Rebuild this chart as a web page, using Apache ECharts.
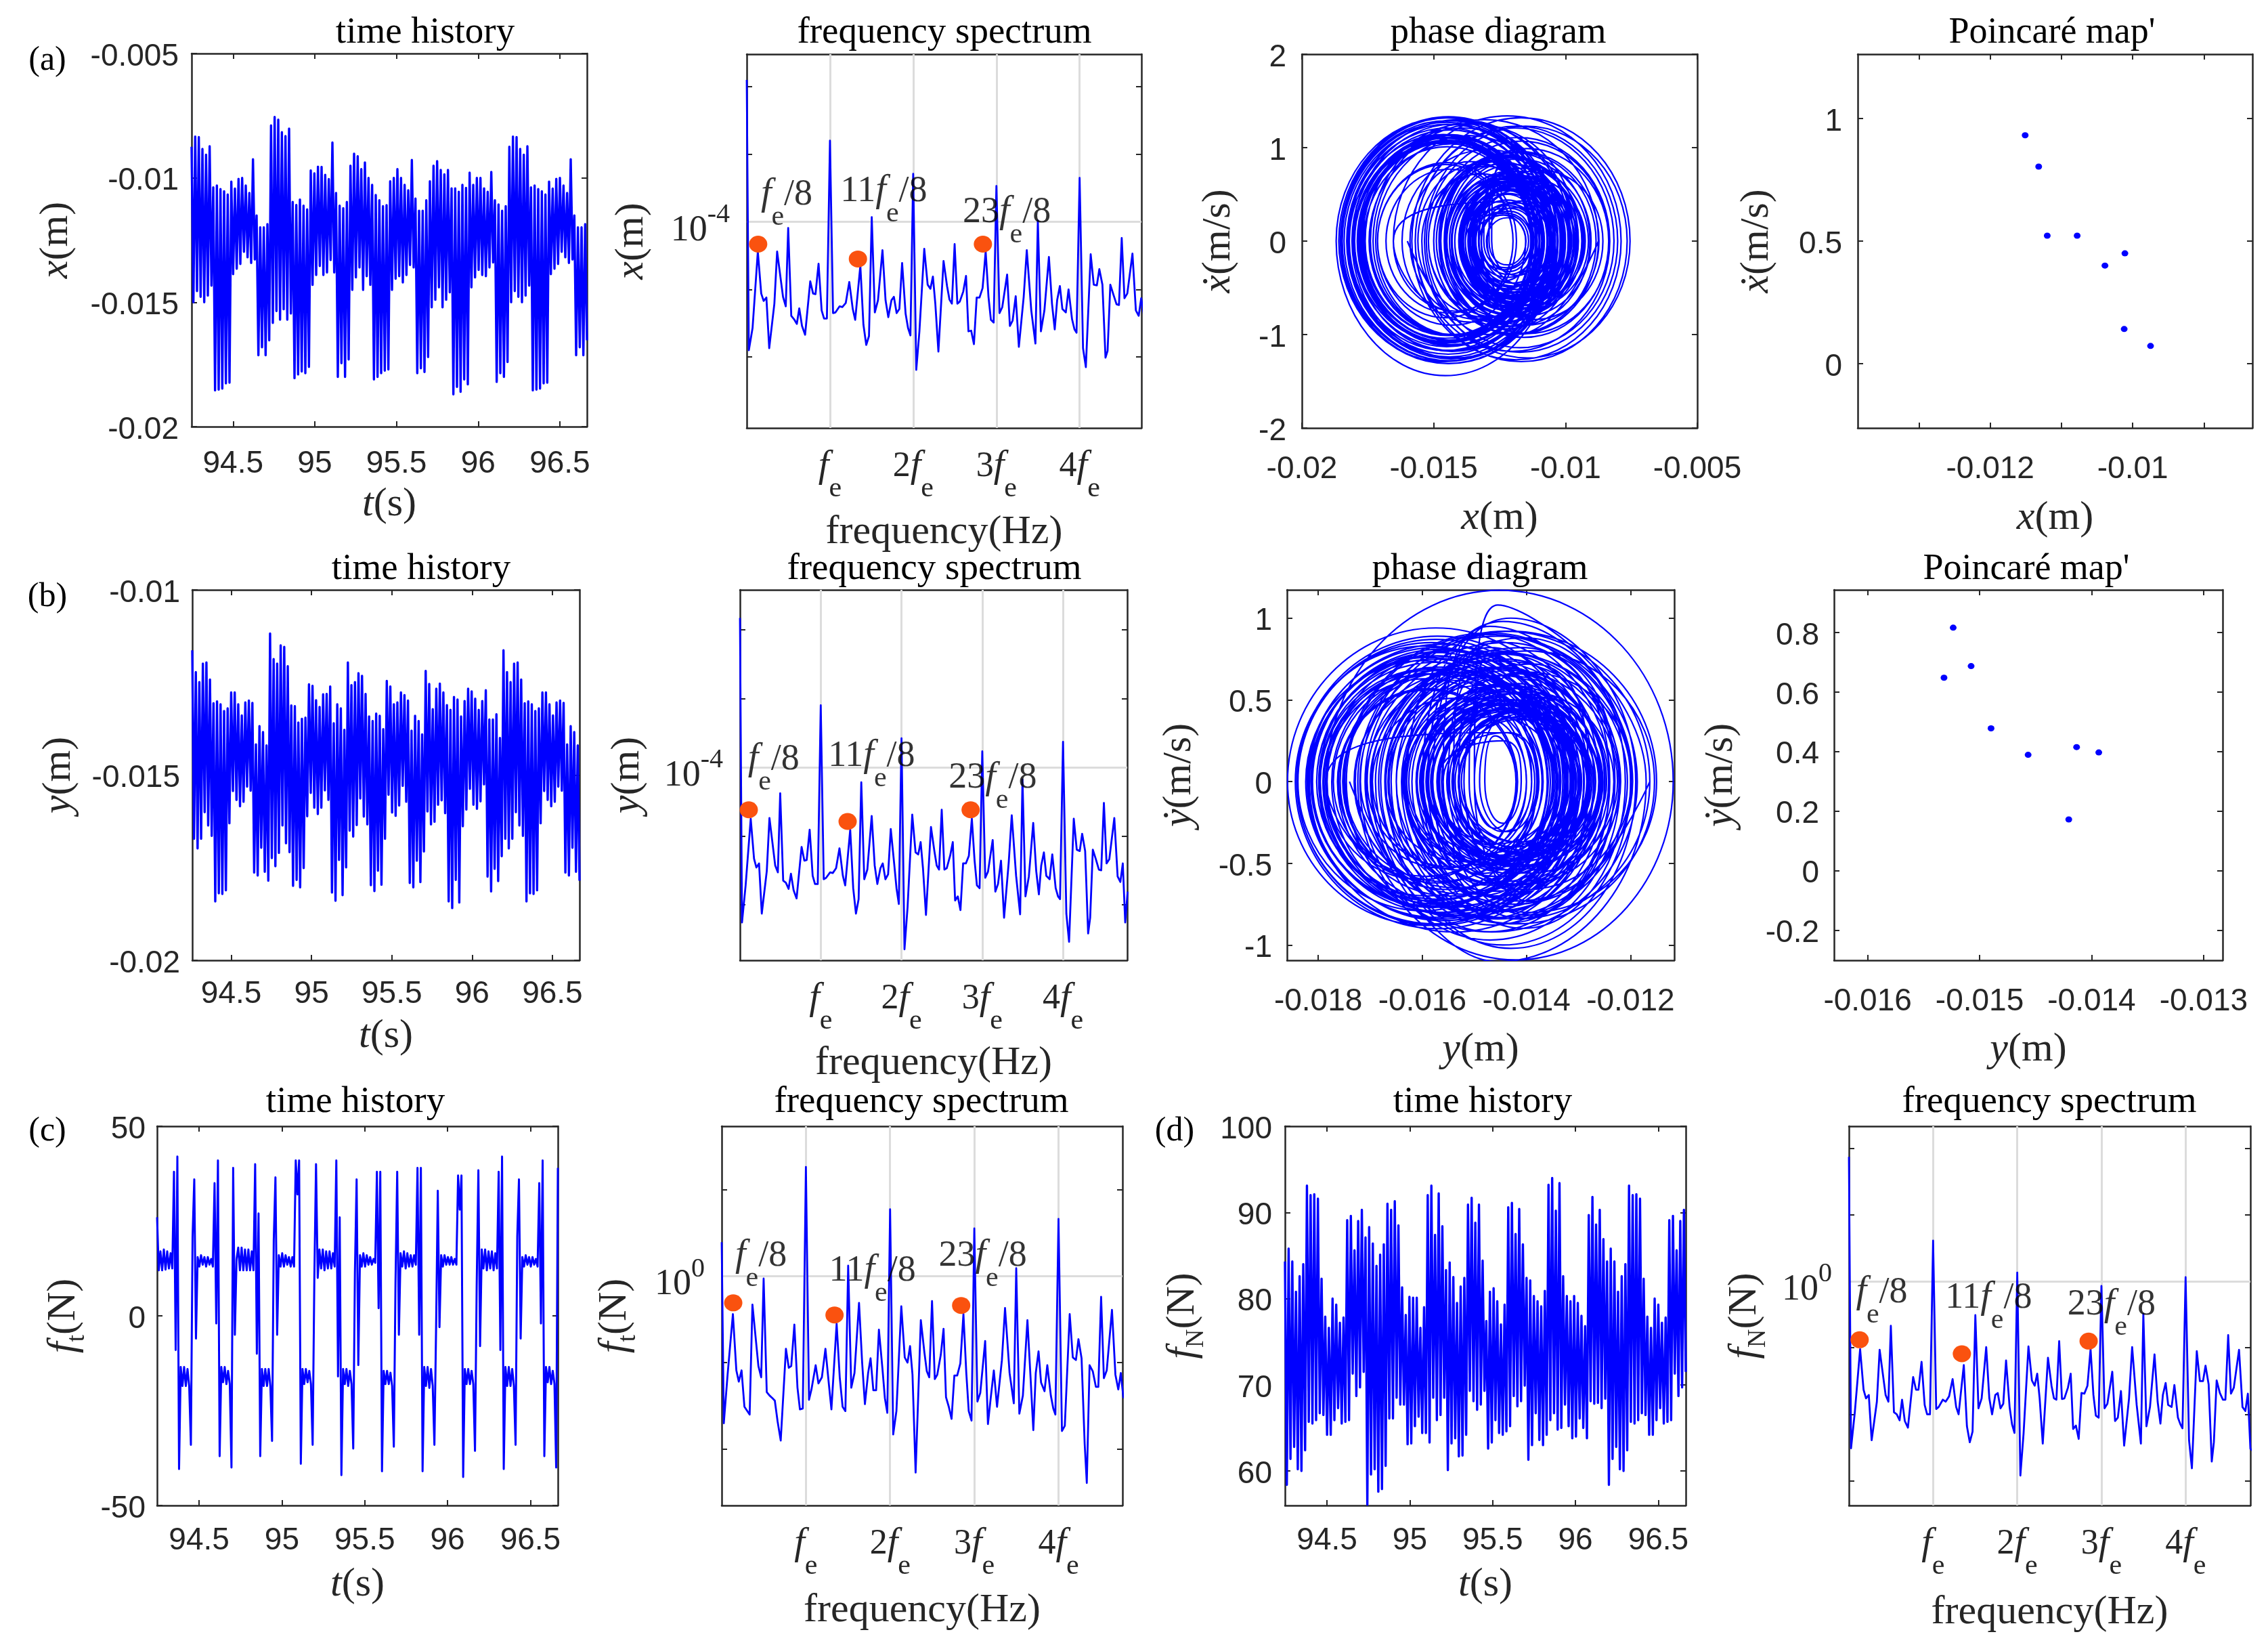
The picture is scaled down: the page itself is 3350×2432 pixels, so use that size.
<!DOCTYPE html>
<html><head><meta charset="utf-8"><style>html,body{margin:0;padding:0;background:#fff}#c{width:3350px;height:2432px}</style>
<script src="https://cdn.jsdelivr.net/npm/echarts@6/dist/echarts.min.js"></script></head><body><div id="c"></div><script>
// ---------- time-history extremes, read per cycle from the picture ----------
const xPeakG1=[-8.75,-8.34,-8.36,-8.84,-9.07,-8.73,-10.38,-10.31,-10.45,-10.54,-10.67,-10.15,-10.43,-10.04,-10.0,-10.31,-10.61,-9.25,-11.51,-11.99,-11.99,-11.86];
const xPeakG2=[-7.89,-7.55,-7.66,-8.16,-8.32,-8.02,-10.97,-11.09,-10.87,-11.12,-11.27,-9.7,-9.82,-9.55,-9.56,-9.88,-10.05,-8.58,-10.61,-11.12,-11.22,-10.97];
const xPeakG3=[-9.51,-9.03,-9.13,-9.65,-9.38,-10.0,-10.28,-10.69,-10.9,-11.14,-11.1,-10.14,-10.0,-9.65,-10.0,-10.28,-10.5,-9.28,-10.83,-11.32,-11.32,-10.9];
const xPeakG4=[-10.14,-9.51,-9.33,-9.68,-9.86,-9.68,-10.42,-10.42,-10.56,-10.28,-10.4,-9.79,-10.28,-10.0,-10.0,-10.42,-10.56,-9.76,-10.9,-11.07,-11.32,-11.14];
const xTroughG1=[-15.0,-14.55,-14.78,-15.0,-14.73,-14.33,-18.54,-18.51,-18.47,-18.26,-18.23,-13.87,-13.65,-13.46,-12.97,-13.19,-13.42,-13.28,-17.13,-16.81,-17.13,-16.53];
const xTroughG2=[-15.83,-15.35,-15.7,-15.28,-15.7,-15.45,-18.05,-17.9,-17.78,-17.85,-17.6,-14.3,-13.9,-13.54,-13.9,-13.8,-13.3,-13.8,-18.0,-17.45,-18.0,-17.3];
const xTroughG3=[-14.5,-14.0,-13.6,-14.5,-13.95,-14.3,-18.1,-18.0,-17.85,-17.75,-17.7,-14.5,-14.05,-13.95,-14.2,-13.9,-13.5,-13.6,-17.85,-17.65,-17.8,-17.2];
const xTroughG4=[-15.2,-14.9,-14.4,-15.2,-14.9,-14.6,-18.7,-18.4,-18.6,-18.1,-18.3,-14.4,-14.0,-13.7,-13.9,-13.95,-13.6,-13.4,-18.2,-17.85,-18.0,-17.4];
const xPeakMm=[...xPeakG1,...xPeakG2,...xPeakG3,...xPeakG4,...xPeakG1];
const xTroughMm=[...xTroughG1,...xTroughG2,...xTroughG3,...xTroughG4,...xTroughG1];

const yPeakG1=[-11.63,-12.22,-12.49,-11.99,-11.96,-12.42,-13.06,-13.01,-13.09,-13.27,-13.2,-12.77,-12.77,-13.09,-13.39,-13.04,-12.99,-13.05,-14.17,-13.68,-13.84,-14.2];
const yPeakG2=[-11.18,-11.87,-11.99,-11.5,-11.54,-12.06,-13.12,-13.14,-13.58,-13.48,-13.45,-12.55,-12.59,-12.98,-13.16,-12.82,-12.81,-12.61,-13.6,-13.09,-13.2,-13.78];
const yPeakG3=[-11.96,-12.57,-12.49,-12.25,-12.32,-12.81,-13.42,-13.54,-13.34,-13.4,-13.76,-12.46,-12.61,-13.09,-13.04,-12.77,-12.84,-12.99,-13.8,-13.4,-13.54,-13.9];
const yPeakG4=[-12.19,-12.54,-13.22,-12.67,-12.53,-12.77,-13.11,-13.24,-12.89,-12.96,-13.42,-13.0,-12.67,-12.74,-12.94,-13.24,-13.0,-12.71,-13.5,-13.5,-13.36,-14.0];
const yTroughG1=[-16.72,-16.98,-16.72,-16.0,-16.36,-16.64,-18.41,-18.19,-18.21,-18.11,-16.3,-15.43,-15.67,-15.84,-15.72,-15.31,-15.42,-17.63,-17.71,-16.96,-17.61,-17.85];
const yTroughG2=[-17.24,-17.46,-17.1,-16.36,-16.84,-17.08,-17.99,-17.83,-18.03,-17.51,-16.11,-15.48,-15.88,-16.05,-15.88,-15.41,-15.67,-18.17,-18.39,-17.29,-18.24,-17.49];
const yTroughG3=[-16.5,-16.66,-16.35,-15.63,-16.12,-16.33,-17.97,-18.13,-17.58,-17.96,-16.72,-15.53,-16.01,-16.1,-15.82,-15.29,-15.72,-17.91,-18.03,-17.31,-17.89,-17.06];
const yTroughG4=[-15.98,-16.33,-16.26,-15.8,-15.68,-16.03,-18.41,-18.59,-17.83,-18.44,-16.38,-15.93,-15.37,-15.8,-15.91,-15.71,-15.25,-17.74,-18.14,-17.53,-17.86,-17.19];
const yPeakMm=[...yPeakG1,...yPeakG2,...yPeakG3,...yPeakG4,...yPeakG1];
const yTroughMm=[...yTroughG1,...yTroughG2,...yTroughG3,...yTroughG4,...yTroughG1];

const fnPeakG1=[84.3,85.8,84.3,80.8,82.6,84.0,93.1,92.0,92.1,91.6,82.3,77.9,76.6,80.0,79.3,77.2,77.8,89.1,89.6,85.6,89.0,90.3];
const fnPeakG2=[87.1,88.3,86.4,83.8,85.1,86.3,91.0,90.3,91.3,88.5,81.3,78.1,80.2,80.1,80.1,76.6,79.0,92.0,93.1,87.4,92.2,88.4];
const fnPeakG3=[83.3,84.2,82.5,79.5,81.4,82.4,90.9,91.7,88.8,90.9,84.4,77.4,80.8,81.2,79.7,77.0,79.3,90.6,91.1,87.5,90.4,86.3];
const fnPeakG4=[82.4,82.1,80.3,79.7,79.1,80.9,93.2,94.0,90.2,93.4,82.6,80.3,79.7,80.3,79.5,78.0,76.8,89.7,91.8,88.6,90.3,86.9];
const fnTroughG1=[58.4,61.4,62.8,60.2,60.0,62.4,65.7,65.5,65.9,66.7,66.5,64.2,64.2,65.9,67.3,65.5,65.7,65.9,71.3,68.7,69.7,71.5];
const fnTroughG2=[56.1,59.6,60.2,57.6,57.9,60.6,66.1,66.1,68.5,67.7,67.7,63.1,63.2,65.2,66.3,64.4,64.4,63.3,68.5,65.9,66.5,68.5];
const fnTroughG3=[60.1,63.2,63.8,61.7,61.8,64.2,69.3,68.1,67.1,67.7,69.3,62.6,63.3,65.9,64.4,64.2,64.6,65.2,68.7,67.5,68.1,69.9];
const fnTroughG4=[61.3,63.0,66.7,63.6,63.0,64.2,65.9,66.7,64.8,65.0,67.7,65.2,63.8,64.0,66.1,65.0,63.8,68.1,67.8,67.9,67.3,68.4];
const fnPeak=[...fnPeakG1,...fnPeakG2,...fnPeakG3,...fnPeakG4,...fnPeakG1];
const fnTrough=[...fnTroughG1,...fnTroughG2,...fnTroughG3,...fnTroughG4,...fnTroughG1];

// tangential force: successive turning values
const ftZigzag=[26,12,17,12,17.5,12.2,17,12.5,16.5,12.5,38,-9,42,-40.4,-13.5,-18.5,-13.5,-18.5,-14,-18.5,-34,21,36,-6,
15.5,13,16,13.5,15.5,13,15.5,13.5,15,13,35,-2,41,-37,-13.5,-17.5,-13.5,-18,-14.5,-18,-40,39,-5,15,
18,12,18,12,17.5,12,17.5,12,17,12,40,-10,27,-37,-14,-18.5,-14,-18.5,-14,-18.5,-33,20,36.5,-5,
16,13,16.5,13,16,13.5,15.5,13,15.5,13,41,32,41,-39,-14,-18,-14,-17.5,-14.5,-18,-34,10,40,10,
17.5,12.5,17.5,12,17,12.5,17,12.5,16.5,13,41,-16,26,-42,-14,-18,-14,-18.5,-14.5,-18,-35,11.6,36,-13,
16,13,16.5,13,16,13.5,15.5,13.5,15,14,38,2,38,-41,-14.5,-18,-14.5,-18,-15,-18.5,-34.5,9,38,-5,
16.5,13,17,12.5,16.5,13,16,13,16,13.5,39,-5,39,-41,-13.5,-18.5,-13.5,-19,-14,-18.5,-34,-3,33,-3,
16,13,16,13.5,15.5,13.5,15.5,13.5,15,13.5,37,28,37,-42.5,-14,-18,-14,-18,-14.5,-18,-35.6,8,38.4,-8,
17.5,12.5,17.5,12,17,12.5,17,12,16.5,12.5,38,-9,42,-40.4,-13.5,-18.5,-13.5,-18.5,-14,-18.5,-34,21,36,-6,
15.5,13,16,13.5,15.5,13,15.5,13.5,15,13,35,-2,41,-37,-13.5,-17.5,-13.5,-18,-14.5,-18,-40,39];

// ---------- phase diagrams: speed extreme of each half-swing (m/s, down,up,down,up...) ----------
const xdSwingG1=[1.00,1.07,.99,.99,1.03,.95,.99,.95,.91,.96,.90,.63,1.31,1.32,1.31,1.29,1.28,1.27,1.24,1.21,1.21,1.29,.60,.55,.52,.58,.55,.55,.48,.43,.46,.41,.45,.67,.64,.28,.90,.82,.77,.77,.82,.84,.75,1.34];
const xdSwingG2=[1.27,1.32,1.25,1.23,1.29,1.21,1.14,1.11,1.18,1.23,1.19,.72,1.13,1.11,1.09,1.13,1.11,1.07,1.08,1.05,1.01,1.26,.74,.72,.65,.70,.64,.64,.69,.64,.63,.60,.52,.76,.84,.51,1.18,1.10,1.01,1.04,1.08,1.13,1.01,1.25];
const xdSwingG3=[.80,.88,.80,.78,.72,.63,.78,.82,.73,.63,.69,.64,1.25,1.19,1.17,1.14,1.11,1.08,1.06,1.06,1.06,1.21,.70,.72,.65,.70,.69,.63,.67,.63,.58,.54,.48,.68,.69,.44,1.12,1.05,1.01,1.01,1.04,1.11,1.01,1.13];
const xdSwingG4=[.81,.91,.86,.89,.81,.75,.88,.85,.81,.83,.79,.67,1.44,1.32,1.28,1.25,1.29,1.33,1.25,1.25,1.26,1.30,.74,.66,.60,.64,.59,.59,.62,.56,.56,.54,.49,.61,.58,.40,1.17,1.14,1.08,1.05,1.07,1.07,1.0,1.30];
const xdSwing=[...xdSwingG1,...xdSwingG2,...xdSwingG3,...xdSwingG4,...xdSwingG1];
const ydSwingG1=[.84,.74,.79,.74,.70,.78,.66,.67,.73,.65,.70,.59,.88,.89,.85,.84,.84,.82,.80,.81,.51,.58,.44,.44,.48,.43,.45,.40,.38,.44,.37,.38,.40,.39,.76,.57,.58,.66,.54,.51,.62,.56,.60,1.17];
const ydSwingG2=[1.09,.89,.92,.90,.84,.92,.80,.80,.87,.79,.83,.65,.80,.80,.77,.70,.73,.75,.66,.67,.44,.59,.48,.48,.54,.48,.51,.48,.45,.50,.43,.43,.47,.50,.92,.76,.79,.87,.69,.67,.83,.74,.61,.91];
const ydSwingG3=[.75,.65,.67,.69,.64,.68,.56,.55,.63,.55,.58,.48,.75,.73,.76,.79,.70,.69,.75,.69,.49,.70,.51,.48,.56,.48,.50,.50,.46,.50,.42,.40,.48,.45,.81,.68,.70,.77,.65,.62,.72,.66,.52,.80];
const ydSwingG4=[.63,.57,.63,.51,.50,.59,.52,.54,.52,.48,.54,.48,.87,.85,.88,.94,.82,.80,.90,.83,.49,.56,.48,.54,.45,.43,.50,.47,.49,.44,.41,.45,.37,.42,.83,.70,.77,.77,.66,.69,.74,.63,.53,.92];
const ydSwing=[...ydSwingG1,...ydSwingG2,...ydSwingG3,...ydSwingG4,...ydSwingG1];
// inner narrow loops seen in the phase diagrams: left and right turning points (mm), speed (m/s)
const xdInnerL=[-13.6,-13.4,-13.8,-13.3,-14.0,-13.2,-13.5,-13.1,-14.2,-13.7,-13.0,-12.9,-14.4,-13.9,-13.5,-13.2,-12.8,-14.6,-15,-14.8,-15.6,-15.9,-16.2,-16.0];
const xdInnerR=[-11.2,-11.0,-10.8,-11.3,-10.6,-11.1,-10.9,-11.4,-10.5,-10.7,-11.3,-11.5,-10.3,-10.4,-10.2,-10.0,-10.9,-10.1,-9.8,-9.6,-10.4,-10.8,-11.0,-9.9];
const xdInnerV=[.42,.38,.55,.30,.68,.35,.50,.28,.72,.60,.32,.25,.80,.70,.75,.70,.36,.85,.90,.92,.80,.82,.85,.98];
const ydInnerL=[-15.0,-15.2,-15.4,-15.6,-14.9,-15.1,-15.8,-15.3,-16.0,-15.5,-16.2,-15.7,-14.8,-15.0,-16.4,-15.9,-16.6,-16.1,-15.2,-15.4,-16.8,-16.3,-17.0,-15.6,-17.2,-16.5,-16.0,-16.9,-15.8,-16.7,-15.0,-17.4];
const ydInnerR=[-13.9,-13.7,-14.0,-13.6,-13.8,-13.5,-13.8,-13.3,-13.6,-13.2,-13.4,-13.1,-14.1,-14.2,-13.0,-12.9,-12.8,-12.7,-13.1,-12.9,-12.5,-12.6,-12.4,-12.3,-12.2,-12.3,-12.1,-12.0,-12.4,-11.9,-12.8,-11.7];
const ydInnerV=[.30,.40,.38,.52,.30,.42,.55,.50,.62,.55,.68,.60,.25,.28,.78,.70,.82,.75,.60,.66,.86,.78,.90,.80,.95,.85,.88,.98,.82,1.0,.72,1.08];

// ---------- spectra: frequency in multiples of fe, log10 amplitude ----------
const specFreq=[0,.025,.07,.133,.174,.203,.236,.27,.332,.365,.436,.469,.498,.535,.568,.602,.631,.664,.701,.763,.797,.826,.863,.9,.929,.963,1.0,
1.037,1.066,1.116,1.149,1.19,1.232,1.274,1.303,1.365,1.402,1.436,1.469,1.502,1.539,1.577,1.631,1.668,1.701,1.739,1.768,1.801,1.834,1.867,1.909,1.938,1.967,2.0,
2.037,2.075,2.133,2.174,2.207,2.237,2.266,2.303,2.365,2.407,2.436,2.465,2.498,2.531,2.56,2.602,2.635,2.664,2.697,2.73,2.763,2.797,2.834,2.871,2.905,2.934,2.967,3.0,
3.037,3.071,3.129,3.162,3.195,3.232,3.27,3.328,3.365,3.419,3.469,3.498,3.535,3.577,3.631,3.668,3.701,3.73,3.763,3.793,3.834,3.867,3.909,3.938,3.963,4.0,
4.041,4.075,4.133,4.17,4.207,4.237,4.274,4.311,4.336,4.369,4.407,4.444,4.473,4.506,4.539,4.573,4.635,4.676,4.71,4.74,4.77,4.80];
const specX=[-1.90,-5.90,-5.57,-4.44,-5.06,-5.17,-5.12,-5.87,-5.21,-4.44,-5.11,-5.25,-4.09,-5.39,-5.44,-5.51,-5.28,-5.54,-5.67,-4.88,-5.06,-5.07,-4.62,-5.31,-5.43,-5.43,-2.80,
-5.35,-5.34,-5.25,-5.26,-5.2,-4.89,-5.29,-5.45,-4.65,-5.52,-5.82,-5.69,-3.93,-5.34,-5.16,-4.42,-5.16,-5.41,-5.16,-5.11,-5.35,-5.29,-4.61,-5.36,-5.57,-5.68,-3.29,
-6.19,-5.62,-4.4,-4.93,-4.99,-4.81,-5.21,-5.92,-4.58,-4.95,-5.15,-5.21,-4.33,-5.21,-5.18,-5.03,-4.8,-5.62,-5.61,-5.81,-5.12,-5.12,-4.98,-4.44,-5.11,-5.45,-5.49,-3.47,
-5.35,-5.26,-4.78,-5.54,-5.46,-5.1,-5.85,-5.11,-4.42,-5.31,-5.8,-3.98,-5.62,-5.31,-4.52,-5.21,-5.59,-5.16,-4.95,-5.29,-5.34,-5.0,-5.44,-5.59,-5.64,-3.35,
-5.87,-6.15,-4.48,-4.93,-4.94,-4.7,-4.93,-6.01,-5.91,-4.93,-5.08,-5.22,-5.23,-4.24,-5.13,-5.06,-4.47,-5.31,-5.39,-5.13,-5.36,-5.5];
const specY=[-1.83,-6.26,-5.72,-4.75,-5.33,-5.46,-5.4,-6.13,-5.51,-4.74,-5.43,-5.53,-4.38,-5.65,-5.68,-5.77,-5.55,-5.79,-5.91,-5.16,-5.36,-5.35,-4.91,-5.58,-5.7,-5.7,-3.1,
-5.63,-5.61,-5.53,-5.54,-5.47,-5.18,-5.58,-5.72,-4.91,-5.76,-6.13,-5.92,-4.22,-5.63,-5.49,-4.71,-5.43,-5.7,-5.47,-5.4,-5.63,-5.56,-4.9,-5.4,-5.76,-5.99,-3.58,
-6.65,-6.04,-4.69,-5.24,-5.27,-5.09,-5.47,-6.15,-4.87,-5.22,-5.43,-5.49,-4.62,-5.49,-5.47,-5.29,-5.09,-5.94,-5.88,-6.08,-5.4,-5.4,-5.29,-4.75,-5.36,-5.72,-5.76,-3.77,
-5.61,-5.52,-5.06,-5.81,-5.7,-5.36,-6.19,-5.38,-4.7,-5.58,-6.14,-4.18,-5.88,-5.59,-4.81,-5.51,-5.85,-5.43,-5.24,-5.58,-5.63,-5.27,-5.76,-5.88,-5.92,-3.63,
-6.13,-6.54,-4.75,-5.2,-5.22,-4.97,-5.22,-6.42,-6.19,-5.2,-5.34,-5.49,-5.5,-4.52,-5.4,-5.34,-4.74,-5.59,-5.67,-5.4,-6.26,-5.81];
const specFt=[.39,-1.70,-1.14,-.44,-1.09,-1.22,-1.09,-1.51,-1.6,-.33,-1.04,-1.17,-.03,-1.34,-1.38,-1.41,-1.44,-1.68,-1.9,-.84,-1.06,-1.04,-.56,-1.29,-1.54,-1.53,1.26,
-1.43,-1.31,-1.03,-1.24,-1.17,-.84,-1.26,-1.54,-.55,-1.17,-1.51,-1.56,.12,-1.29,-1.12,-.31,-1.0,-1.48,-1.12,-.95,-1.32,-1.32,-.62,-1.07,-1.41,-1.58,.77,
-1.83,-1.56,-.35,-.94,-1.0,-.81,-1.14,-2.27,-.51,-.88,-1.1,-1.17,-.29,-1.19,-1.14,-.91,-.61,-1.4,-1.51,-1.65,-1.15,-1.15,-1.01,-.44,-1.12,-1.56,-1.67,.55,
-1.45,-1.35,-.75,-1.71,-1.41,-1.09,-1.51,-.97,-.37,-1.12,-1.47,.09,-1.59,-1.38,-.51,-1.17,-1.78,-1.12,-.87,-1.23,-1.33,-1.03,-1.38,-1.53,-1.6,.66,
-1.79,-1.73,-.44,-.94,-.97,-.73,-.95,-1.94,-2.39,-1.03,-1.1,-1.28,-1.28,-.24,-1.18,-1.09,-.39,-1.14,-1.31,-1.12,-1.4,-1.41];
const specFn=[1.87,-2.51,-1.97,-1.02,-1.63,-1.76,-1.71,-2.39,-1.81,-1.03,-1.71,-1.81,-.67,-1.97,-2.0,-2.09,-1.78,-2.1,-2.2,-1.44,-1.63,-1.63,-1.21,-1.86,-2.0,-2.0,.61,
-1.92,-1.89,-1.78,-1.81,-1.73,-1.47,-1.89,-2.0,-1.26,-2.18,-2.42,-2.26,-.51,-1.91,-1.76,-.99,-1.76,-2.0,-1.71,-1.68,-1.91,-1.84,-1.19,-1.89,-2.15,-2.28,.13,
-2.92,-2.29,-.98,-1.49,-1.57,-1.39,-1.76,-2.44,-1.15,-1.57,-1.76,-1.78,-.9,-1.77,-1.76,-1.6,-1.39,-2.22,-2.17,-2.37,-1.68,-1.69,-1.57,-1.02,-1.71,-2.02,-2.05,-.07,
-1.91,-1.84,-1.36,-2.1,-2.05,-1.65,-2.47,-1.76,-.99,-1.86,-2.44,-.49,-2.18,-1.89,-1.1,-1.81,-2.14,-1.71,-1.53,-1.86,-1.89,-1.56,-2.05,-2.15,-2.21,.06,
-2.39,-2.81,-1.05,-1.5,-1.5,-1.27,-1.55,-2.71,-2.42,-1.49,-1.68,-1.78,-1.78,-.81,-1.69,-1.6,-1.03,-1.89,-1.95,-1.69,-2.52,-2.55];

// marked sub-harmonics and their annotations
const markFreqX=[.137,1.336,2.838], markAmpX=[-4.33,-4.55,-4.33];
const markFreqY=[.109,1.333,2.856], markAmpY=[-4.62,-4.79,-4.62];
const markFreqFt=[.137,1.34,2.844], markAmpFt=[-.31,-.45,-.34];
const markFreqFn=[.127,1.342,2.848], markAmpFn=[-.88,-1.09,-.90];
const noteNames=['','11','23'];
const noteFreqX=[.48,1.647,3.125], noteAmpX=[-3.60,-3.55,-3.86];
const noteFreqY=[.417,1.63,3.13], noteAmpY=[-3.89,-3.84,-4.16];
const noteFreqFt=[.467,1.79,3.10], noteAmpFt=[.23,.06,.23];
const noteFreqFn=[.39,1.66,3.12], noteAmpFn=[-.17,-.25,-.36];

// Poincare maps
const poinXx=[-.01151,-.01132,-.0112,-.01078,-.01011,-.01039,-.01012,-.00975];
const poinXv=[.932,.804,.522,.522,.45,.40,.141,.072];
const poinYx=[-.015236,-.015076,-.015318,-.014898,-.014567,-.014134,-.013936,-.014204];
const poinYv=[.816,.687,.648,.478,.389,.415,.397,.172];

// tick values
const timeTicks=[94.5,95,95.5,96,96.5];
const feTicks=[1,2,3,4];
const feLabels=['{i|f}{s|e}','{n|2}{i|f}{s|e}','{n|3}{i|f}{s|e}','{n|4}{i|f}{s|e}'];

// ---------- styling ----------
const INK='#262626',BLUE='#0000ff',ORANGE='#fa520f',SERIF='"Liberation Serif"',SANS='"Liberation Sans"';
const nameRich={i:{fontFamily:SERIF,fontStyle:'italic',fontSize:60,lineHeight:70,color:INK},
 n:{fontFamily:SERIF,fontSize:60,lineHeight:70,color:INK},
 s:{fontFamily:SERIF,fontSize:38,lineHeight:78,verticalAlign:'bottom',color:INK}};
const feRich={i:{fontFamily:SERIF,fontStyle:'italic',fontSize:56,lineHeight:60,color:INK},
 n:{fontFamily:SERIF,fontSize:52,lineHeight:60,color:INK},
 s:{fontFamily:SERIF,fontSize:42,lineHeight:108,verticalAlign:'bottom',color:INK}};
const powRich={n:{fontFamily:SERIF,fontSize:54,lineHeight:80,verticalAlign:'bottom',color:INK},
 e:{fontFamily:SERIF,fontSize:40,lineHeight:40,verticalAlign:'top',padding:[10,0,0,0],color:INK}};
const noteRich={i:{fontFamily:SERIF,fontStyle:'italic',fontSize:56,lineHeight:52,color:'#000'},
 n:{fontFamily:SERIF,fontSize:54,lineHeight:52,color:'#000'},
 s:{fontFamily:SERIF,fontSize:42,lineHeight:108,verticalAlign:'bottom',color:'#000'}};

const grids=[],xAxes=[],yAxes=[],series=[],titles=[];
function addTitle(text,x,y,size,color){titles.push({text,left:x,top:y,textAlign:'center',textVerticalAlign:'middle',padding:0,
 textStyle:{fontFamily:SERIF,fontWeight:'normal',fontSize:size,color:color||'#000'}});}

function panel(p){
 const g=grids.length,[l,t,w,h]=p.box;
 grids.push({left:l,top:t,width:w,height:h,containLabel:false});
 const line={show:true,onZero:false,lineStyle:{color:INK,width:2.5}};
 const tick=v=>({show:true,inside:true,length:8,customValues:v,lineStyle:{color:INK,width:2}});
 const xi=xAxes.length,yi=yAxes.length;
 xAxes.push({type:'value',gridIndex:g,position:'bottom',min:p.xr[0],max:p.xr[1],axisLine:line,axisTick:tick(p.xt),splitLine:{show:false},
  axisLabel:{show:true,customValues:p.xl||p.xt,margin:p.xm,formatter:p.xf||(v=>String(v)),fontFamily:SANS,fontSize:46,color:INK,rich:feRich},
  name:p.xn,nameLocation:'middle',nameGap:p.xo-35,nameTextStyle:{rich:nameRich}});
 xAxes.push({type:'value',gridIndex:g,position:'top',min:p.xr[0],max:p.xr[1],axisLine:line,axisTick:tick(p.xt),axisLabel:{show:false},splitLine:{show:false}});
 yAxes.push({type:'value',gridIndex:g,position:'left',min:p.yr[0],max:p.yr[1],axisLine:line,axisTick:tick(p.yt),splitLine:{show:false},
  axisLabel:{show:true,customValues:p.yl||p.yt,margin:p.ym,padding:p.yf?0:[10,0,0,0],formatter:p.yf||(v=>String(v)),fontFamily:SANS,fontSize:46,color:INK,rich:powRich},
  name:p.yn,nameLocation:'middle',nameGap:p.yo-35,nameRotate:90,nameTextStyle:{rich:nameRich}});
 yAxes.push({type:'value',gridIndex:g,position:'right',min:p.yr[0],max:p.yr[1],axisLine:line,axisTick:tick(p.yt),axisLabel:{show:false},splitLine:{show:false}});
 (p.series||[]).forEach(s=>series.push(Object.assign({xAxisIndex:xi,yAxisIndex:yi,animation:false,silent:true},s)));
}
const T0=94.246,T1=96.666;
function zigzag(vals,a,b){const n=vals.length,s=a===undefined?T0:a,e=b===undefined?T1:b;return vals.map((v,k)=>[s+(e-s)*k/(n-1),v]);}
function interleave(p,q,div){const o=[];p.forEach((v,i)=>{o.push(v/div);o.push(q[i]/div);});return o;}
function traceLine(data,width,extra){return Object.assign({type:'line',data,showSymbol:false,symbol:'none',clip:true,
 lineStyle:{color:BLUE,width:width||2.5,join:'round'},itemStyle:{color:BLUE}},extra||{});}
function phasePath(pk,tr,sw,inL,inR,inV){const o=[];
 pk.forEach((p,i)=>{const q=tr[i],nx=pk[i+1];
  o.push([p/1000,0]);o.push([(p+q)/2000,-sw[2*i]]);o.push([q/1000,0]);
  if(nx!==undefined)o.push([(q+nx)/2000,sw[2*i+1]]);});
 inL.forEach((a,i)=>{const b=inR[i],c=(a+b)/2000,v=inV[i];
  o.push([c,v]);o.push([b/1000,0]);o.push([c,-v*1.02]);o.push([a/1000,0]);});
 return o;}
function specSeries(amp,mf,ma,nf,na,gridY){
 const data=specFreq.map((f,i)=>[f,amp[i]]);
 return [traceLine(data,2.8,{markLine:{silent:true,z:1,symbol:['none','none'],animation:false,label:{show:false},
   lineStyle:{color:'#dcdcdc',width:3,type:'solid'},data:[{yAxis:gridY},...feTicks.map(v=>({xAxis:v}))]}}),
  {type:'scatter',data:mf.map((f,i)=>[f,ma[i]]),symbol:'circle',symbolSize:[27,25],itemStyle:{color:ORANGE,opacity:1},z:4},
  {type:'scatter',data:nf.map((f,i)=>({value:[f,na[i]],name:noteNames[i]})),symbolSize:1,itemStyle:{color:'rgba(0,0,0,0)'},z:5,
   label:{show:true,position:'inside',rich:noteRich,formatter:d=>(d.name?`{n|${d.name}}`:'')+'{i|f}{s|e}{n|/8}'}}];}
const specPanel=(box,xmax,yr,yl,yt,yn,yo,xo,yf,amp,mf,ma,nf,na,gridY)=>panel({box,xr:[0,xmax],yr,xt:feTicks,yt,yl,xf:v=>feLabels[v-1],yf,
 xm:3,ym:25,xn:'{n|frequency(Hz)}',xo,yn,yo,series:specSeries(amp,mf,ma,nf,na,gridY)});
const powF=s=>(()=>s);

// ---------- row (a) ----------
addTitle('(a)',70,90,50);
addTitle('time history',628,49,55);
panel({box:[283,79,584,551],xr:[T0,T1],yr:[-.02,-.005],xt:timeTicks,yt:[-.02,-.015,-.01,-.005],xm:32,ym:19,
 xn:'{i|t}{n|(s)}',xo:115,yn:'{i|x}{n|(m)}',yo:200,series:[traceLine(zigzag(interleave(xPeakMm,xTroughMm,1000)),3.4)]});
addTitle('frequency spectrum',1395,49,55);
specPanel([1103,80,583,552],4.743,[-7.05,-1.52],[-4],[-6,-5,-4,-3,-2],'{i|x}{n|(m)}',170,154,powF('{n|10}{e|-4}'),specX,markFreqX,markAmpX,noteFreqX,noteAmpX,-4);
addTitle('phase diagram',2213,49,55);
panel({box:[1923,80,584,552],xr:[-.02,-.005],yr:[-2,2],xt:[-.02,-.015,-.01,-.005],yt:[-2,-1,0,1,2],xm:38,ym:23,
 xn:'{i|x}{n|(m)}',xo:133,yn:'{i|ẋ}{n|(m/s)}',yo:123,series:[traceLine(phasePath(xPeakMm,xTroughMm,xdSwing,xdInnerL,xdInnerR,xdInnerV),2.2,{smooth:.55})]});
addTitle("Poincaré map'",3031,49,54);
panel({box:[2744,80,583,552],xr:[-.01386,-.00832],yr:[-.263,1.263],xt:[-.013,-.012,-.011,-.01,-.009],xl:[-.012,-.01],yt:[0,.5,1],xm:38,ym:23,
 xn:'{i|x}{n|(m)}',xo:133,yn:'{i|ẋ}{n|(m/s)}',yo:149,series:[{type:'scatter',data:poinXx.map((x,i)=>[x,poinXv[i]]),symbolSize:[10,9],itemStyle:{color:BLUE,opacity:1}}]});

// ---------- row (b) ----------
addTitle('(b)',70,882,50);
addTitle('time history',622,841,55);
panel({box:[284,871,572,547],xr:[94.257,96.669],yr:[-.02,-.01],xt:timeTicks,yt:[-.02,-.015,-.01],xm:27,ym:18,
 xn:'{i|t}{n|(s)}',xo:112,yn:'{i|y}{n|(m)}',yo:197,series:[traceLine(zigzag(interleave(yPeakMm,yTroughMm,1000),94.257,96.669),3.4)]});
addTitle('frequency spectrum',1380,841,55);
specPanel([1093,871,572,547],4.795,[-6.81,-1.42],[-4],[-6,-5,-4,-3,-2],'{i|y}{n|(m)}',166,152,powF('{n|10}{e|-4}'),specY,markFreqY,markAmpY,noteFreqY,noteAmpY,-4);
addTitle('phase diagram',2186,841,55);
panel({box:[1901,871,572,547],xr:[-.0186,-.01116],yr:[-1.093,1.173],xt:[-.018,-.016,-.014,-.012],yt:[-1,-.5,0,.5,1],xm:38,ym:22,
 xn:'{i|y}{n|(m)}',xo:132,yn:'{i|ẏ}{n|(m/s)}',yo:159,series:[traceLine(phasePath(yPeakMm,yTroughMm,ydSwing,ydInnerL,ydInnerR,ydInnerV),2.2,{smooth:.55})]});
addTitle("Poincaré map'",2993,841,54);
panel({box:[2709,871,574,547],xr:[-.0163,-.01283],yr:[-.301,.943],xt:[-.016,-.015,-.014,-.013],yt:[-.2,0,.2,.4,.6,.8],xm:38,ym:22,
 xn:'{i|y}{n|(m)}',xo:132,yn:'{i|ẏ}{n|(m/s)}',yo:167,series:[{type:'scatter',data:poinYx.map((x,i)=>[x,poinYv[i]]),symbolSize:[10,9],itemStyle:{color:BLUE,opacity:1}}]});

// ---------- row (c) and (d) ----------
addTitle('(c)',70,1671,50);
addTitle('time history',525,1628,55);
panel({box:[232,1663,592,560],xr:[T0,T1],yr:[-50,50],xt:timeTicks,yt:[-50,0,50],xm:29,ym:17,
 xn:'{i|t}{n|(s)}',xo:117,yn:'{i|f}{s|t}{n|(N)}',yo:134,series:[traceLine(zigzag(ftZigzag),3)]});
addTitle('frequency spectrum',1361,1628,55);
specPanel([1066,1663,592,560],4.76,[-2.65,1.73],[0],[-2,-1,0,1],'{i|f}{s|t}{n|(N)}',154,155,powF('{n|10}{e|0}'),specFt,markFreqFt,markAmpFt,noteFreqFt,noteAmpFt,0);
addTitle('(d)',1735,1671,50);
addTitle('time history',2190,1628,55);
panel({box:[1898,1663,592,560],xr:[T0,T1],yr:[56,100],xt:timeTicks,yt:[60,70,80,90,100],xm:29,ym:19,
 xn:'{i|t}{n|(s)}',xo:117,yn:'{i|f}{s|N}{n|(N)}',yo:147,series:[traceLine(zigzag(interleave(fnPeak,fnTrough,1)),3.4)]});
addTitle('frequency spectrum',3027,1628,55);
specPanel([2731,1663,593,560],4.77,[-3.37,2.33],[0],[-3,-2,-1,0,1,2],'{i|f}{s|N}{n|(N)}',150,158,powF('{n|10}{e|0}'),specFn,markFreqFn,markAmpFn,noteFreqFn,noteAmpFn,0);

const chart=echarts.init(document.getElementById('c'),null,{renderer:'canvas',width:3350,height:2432});
chart.setOption({backgroundColor:'#fff',animation:false,title:titles,grid:grids,xAxis:xAxes,yAxis:yAxes,series});
</script></body></html>
